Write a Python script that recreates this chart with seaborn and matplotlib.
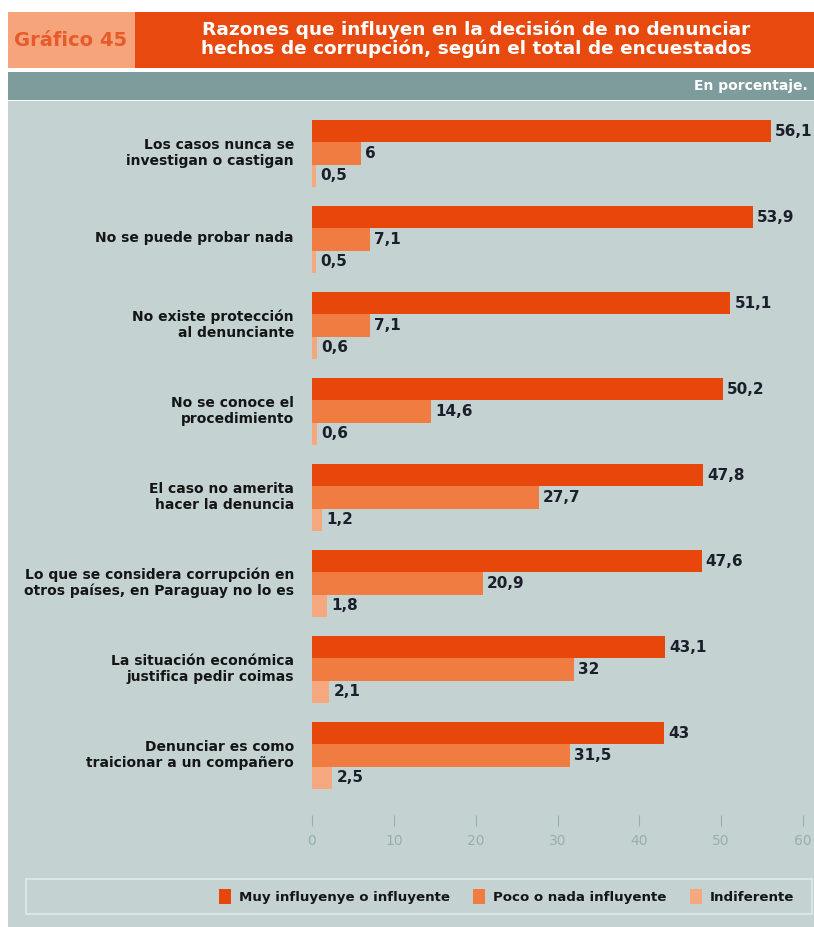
import matplotlib
matplotlib.use("Agg")
import matplotlib.pyplot as plt
import matplotlib.transforms as mtrans
from matplotlib.patches import Rectangle, Patch
import seaborn as sns
import pandas as pd

# ---- data ----
categories = [
    "Los casos nunca se\ninvestigan o castigan",
    "No se puede probar nada",
    "No existe protección\nal denunciante",
    "No se conoce el\nprocedimiento",
    "El caso no amerita\nhacer la denuncia",
    "Lo que se considera corrupción en\notros países, en Paraguay no lo es",
    "La situación económica\njustifica pedir coimas",
    "Denunciar es como\ntraicionar a un compañero",
]
series_names = ["Muy influyenye o influyente", "Poco o nada influyente", "Indiferente"]
muy = [56.1, 53.9, 51.1, 50.2, 47.8, 47.6, 43.1, 43]
poco = [6, 7.1, 7.1, 14.6, 27.7, 20.9, 32, 31.5]
indif = [0.5, 0.5, 0.6, 0.6, 1.2, 1.8, 2.1, 2.5]
x_ticks = [0, 10, 20, 30, 40, 50, 60]

colors = ["#E8470C", "#F07C42", "#F5A77E"]

rows = []
for s, vals in zip(series_names, [muy, poco, indif]):
    for c, v in zip(categories, vals):
        rows.append({"reason": c, "serie": s, "value": v})
df = pd.DataFrame(rows)

sns.set_theme(style="white")
plt.rcParams["font.family"] = ["DejaVu Sans"]

W, H = 814, 927
fig = plt.figure(figsize=(W / 100, H / 100), dpi=100)
fig.patch.set_facecolor("white")

def fx(px):
    return px / W

def fy(py):
    return 1 - py / H

def rect(x0, y0, x1, y1, color, **kw):
    fig.patches.append(Rectangle((fx(x0), fy(y1)), fx(x1 - x0), (y1 - y0) / H,
                                 transform=fig.transFigure, facecolor=color,
                                 edgecolor="none", zorder=-10, **kw))

# header
rect(8, 12, 135, 68, "#F5A47B")
rect(135, 12, W, 68, "#E8490F")
rect(8, 72, W, 100, "#7F9C9C")
rect(8, 101, W, H, "#C4D2D2")
fig.text(fx(71), fy(40), "Gráfico 45", ha="center", va="center",
         fontsize=14, fontweight="bold", color="#E85A2A")
fig.text(fx(476), fy(39), "Razones que influyen en la decisión de no denunciar\nhechos de corrupción, según el total de encuestados",
         ha="center", va="center", fontsize=13.3, fontweight="bold", color="white",
         linespacing=1.0)
fig.text(fx(808), fy(86), "En porcentaje.", ha="right", va="center",
         fontsize=10, fontweight="bold", color="white")

# main axes
ax = fig.add_axes([fx(312), fy(815), fx(803) - fx(312), (815 - 110.5) / H])
ax.set_facecolor("none")
ax.set_zorder(5)
sns.barplot(data=df, y="reason", x="value", hue="serie", orient="h",
            palette=colors, saturation=1, width=0.78, order=categories,
            hue_order=series_names, ax=ax, legend=False, linewidth=0,
            errorbar=None)
ax.set_xlim(0, 60)
ax.set_ylim((815 - 153.5) / 86, -0.5)
for sp in ax.spines.values():
    sp.set_visible(False)
ax.set_xlabel("")
ax.set_ylabel("")
ax.set_xticks(x_ticks)
ax.set_xticklabels([str(t) for t in x_ticks], fontsize=10, color="#97AEB1")
ax.tick_params(axis="x", direction="out", length=8, width=0.8, color="#97AEB1", pad=6,
               bottom=True)
ax.tick_params(axis="y", length=0, pad=13)
for lab in ax.get_yticklabels():
    lab.set_fontsize(10)
    lab.set_fontweight("bold")
    lab.set_color("#151515")
    lab.set_linespacing(1.15)
    lab.set_transform(lab.get_transform() + mtrans.ScaledTranslation(0, 3 / 100, fig.dpi_scale_trans))

for cont, vals in zip(ax.containers, [muy, poco, indif]):
    labels = [f"{v:g}".replace(".", ",") for v in vals]
    ax.bar_label(cont, labels=labels, padding=3, fontsize=11, fontweight="bold",
                 color="#1B1E2B", clip_on=False)

# legend
fig.patches.append(Rectangle((fx(26), fy(914)), fx(812 - 26), (914 - 879) / H,
                             transform=fig.transFigure, facecolor="none",
                             edgecolor="#E2EAEA", lw=1.2, zorder=-5))
handles = [Patch(facecolor=c, edgecolor="none") for c in colors]
leg = fig.legend(handles, series_names, loc="center right",
                 bbox_to_anchor=(fx(801), fy(896.5)), ncol=3, frameon=False,
                 handlelength=0.9, handleheight=1.4, handletextpad=0.6,
                 columnspacing=1.75, borderpad=0, prop={"size": 9.6, "weight": "bold"})
for t in leg.get_texts():
    t.set_color("#151515")

fig.savefig("out.png", dpi=100, facecolor="white")
